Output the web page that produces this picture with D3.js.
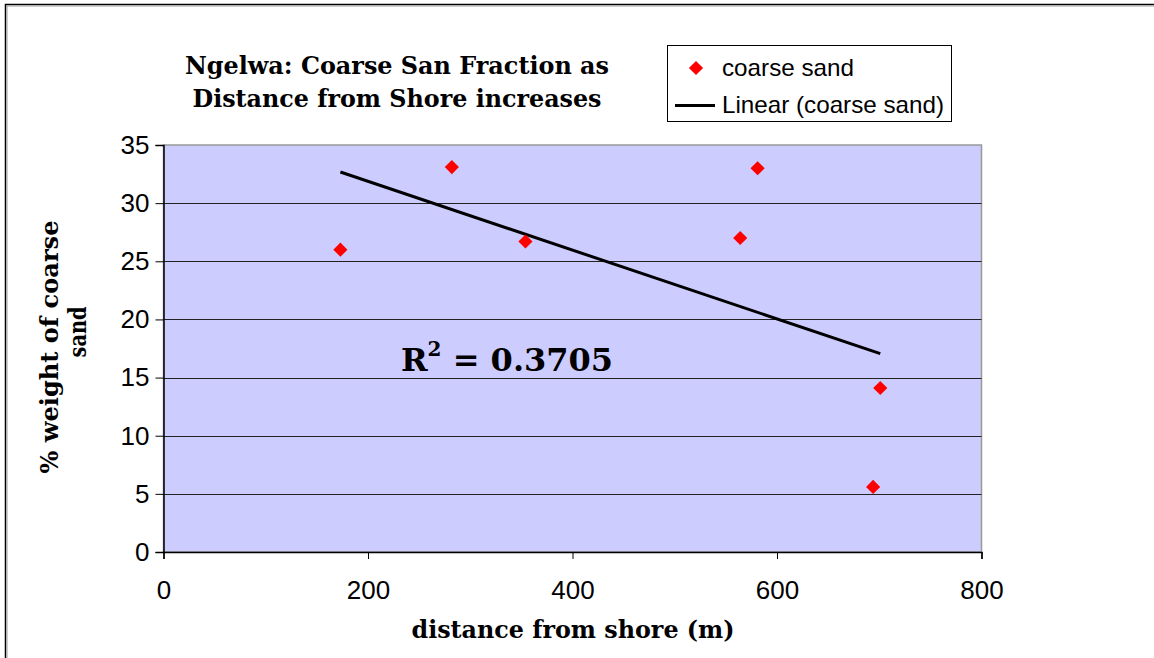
<!DOCTYPE html>
<html>
<head>
<meta charset="utf-8">
<script src="https://cdn.jsdelivr.net/npm/d3@7"></script>
<style>
  body { margin: 0; background: #fff; }
  .sans { font-family: "Liberation Sans", Arial, sans-serif; }
  .serif { font-family: "DejaVu Serif", "Liberation Serif", serif; font-weight: bold; }
</style>
</head>
<body>
<svg width="1154" height="658"></svg>
<script>
// data
var distance   = [173, 282, 354, 564, 581, 694, 701];
var coarseSand = [26.0, 33.1, 26.7, 27.0, 33.0, 5.6, 14.1];
var xTicks = [0, 200, 400, 600, 800];
var yTicks = [0, 5, 10, 15, 20, 25, 30, 35];
var titleLines = ["Ngelwa: Coarse San Fraction as", "Distance from Shore increases"];
var yTitleLines = ["% weight of coarse", "sand"];
var xTitle = "distance from shore (m)";
var legendLabels = ["coarse sand", "Linear (coarse sand)"];
var rSquared = "0.3705";

var svg = d3.select("svg");

// outer chart frame (runs off the bottom/right edge)
svg.append("rect").attr("x", 5.5).attr("y", 4.5).attr("width", 1200).attr("height", 700)
    .attr("fill", "none").attr("stroke", "#000").attr("stroke-width", 1.5);
svg.append("rect").attr("x", 7).attr("y", 6).attr("width", 1200).attr("height", 700)
    .attr("fill", "none").attr("stroke", "#a0a0a0").attr("stroke-width", 1);

var x = d3.scaleLinear().domain([0, 800]).range([163.5, 981.5]);
var y = d3.scaleLinear().domain([0, 35]).range([552, 145]);

// plot area
svg.append("rect")
    .attr("x", x(0)).attr("y", y(35))
    .attr("width", x(800) - x(0)).attr("height", y(0) - y(35))
    .attr("fill", "#ccccff").attr("stroke", "#999").attr("stroke-width", 1.5);

// gridlines
svg.append("g").selectAll("line")
  .data(yTicks.filter(function(d) { return d > 0 && d < 35; }))
  .enter().append("line")
    .attr("x1", x(0)).attr("x2", x(800))
    .attr("y1", function(d) { return Math.round(y(d)) + 0.5; })
    .attr("y2", function(d) { return Math.round(y(d)) + 0.5; })
    .attr("stroke", "#222").attr("stroke-width", 1);

// axes
var yAxis = svg.append("g")
    .attr("transform", "translate(" + x(0) + ",0)")
    .call(d3.axisLeft(y).tickValues(yTicks).tickSize(8).tickPadding(6).tickFormat(d3.format("d")));
var xAxis = svg.append("g")
    .attr("transform", "translate(0," + y(0) + ")")
    .call(d3.axisBottom(x).tickValues(xTicks).tickSize(7).tickPadding(22).tickFormat(d3.format("d")));

[xAxis, yAxis].forEach(function(a) {
  a.selectAll("path").attr("stroke", "#000").attr("stroke-width", 1.5);
  a.selectAll("line").attr("stroke", "#000");
  a.selectAll("text").attr("class", "sans").attr("font-size", 26).attr("fill", "#000");
});

// trend line from least squares fit
var mx = d3.mean(distance), my = d3.mean(coarseSand);
var sxy = d3.sum(distance, function(d, i) { return (d - mx) * (coarseSand[i] - my); });
var sxx = d3.sum(distance, function(d) { return (d - mx) * (d - mx); });
var slope = sxy / sxx, intercept = my - slope * mx;
var xr = d3.extent(distance);

svg.append("line")
    .attr("x1", x(xr[0])).attr("y1", y(intercept + slope * xr[0]))
    .attr("x2", x(xr[1])).attr("y2", y(intercept + slope * xr[1]))
    .attr("stroke", "#000").attr("stroke-width", 3);

// points
var diamond = d3.symbol().type(d3.symbolSquare).size(100);
svg.append("g").selectAll("path")
  .data(distance)
  .enter().append("path")
    .attr("d", diamond)
    .attr("transform", function(d, i) {
      return "translate(" + x(d) + "," + y(coarseSand[i]) + ") rotate(45)";
    })
    .attr("fill", "#ff0000");

// R squared label
var r2 = svg.append("text").attr("class", "serif").attr("x", 401).attr("y", 371)
    .attr("font-size", 32).attr("fill", "#000");
r2.append("tspan").text("R");
r2.append("tspan").attr("font-size", 20).attr("dy", -15).text("2");
r2.append("tspan").attr("dy", 15).text(" = " + rSquared);

// title
var titleWidths = [424, 409];
svg.append("g").selectAll("text")
  .data(titleLines)
  .enter().append("text")
    .attr("class", "serif")
    .attr("x", 397)
    .attr("y", function(d, i) { return 74 + i * 33; })
    .attr("text-anchor", "middle")
    .attr("font-size", 24)
    .attr("textLength", function(d, i) { return titleWidths[i]; })
    .attr("lengthAdjust", "spacingAndGlyphs")
    .text(function(d) { return d; });

// x axis title
svg.append("text").attr("class", "serif")
    .attr("x", 573).attr("y", 638)
    .attr("text-anchor", "middle").attr("font-size", 24)
    .attr("textLength", 323).attr("lengthAdjust", "spacingAndGlyphs")
    .text(xTitle);

// y axis title
var yTitlePos = [{cx: 58, cy: 347, w: 253}, {cx: 86, cy: 332, w: 51}];
svg.append("g").selectAll("text")
  .data(yTitleLines)
  .enter().append("text")
    .attr("class", "serif")
    .attr("transform", function(d, i) {
      return "translate(" + yTitlePos[i].cx + "," + yTitlePos[i].cy + ") rotate(-90)";
    })
    .attr("text-anchor", "middle").attr("font-size", 24)
    .attr("textLength", function(d, i) { return yTitlePos[i].w; })
    .attr("lengthAdjust", "spacingAndGlyphs")
    .text(function(d) { return d; });

// legend
var legend = svg.append("g");
legend.append("rect")
    .attr("x", 667.5).attr("y", 45.5).attr("width", 284).attr("height", 76)
    .attr("fill", "#fff").attr("stroke", "#000").attr("stroke-width", 1);
legend.append("path")
    .attr("d", diamond)
    .attr("transform", "translate(696,68) rotate(45)")
    .attr("fill", "#ff0000");
legend.append("line")
    .attr("x1", 675).attr("x2", 715).attr("y1", 105.5).attr("y2", 105.5)
    .attr("stroke", "#000").attr("stroke-width", 3);
legend.selectAll("text.lab")
  .data(legendLabels)
  .enter().append("text")
    .attr("class", "sans lab")
    .attr("x", 722)
    .attr("y", function(d, i) { return 76 + i * 37; })
    .attr("font-size", 24)
    .attr("textLength", function(d, i) { return [132, 222][i]; })
    .attr("lengthAdjust", "spacingAndGlyphs")
    .attr("fill", "#000")
    .text(function(d) { return d; });
</script>
</body>
</html>
